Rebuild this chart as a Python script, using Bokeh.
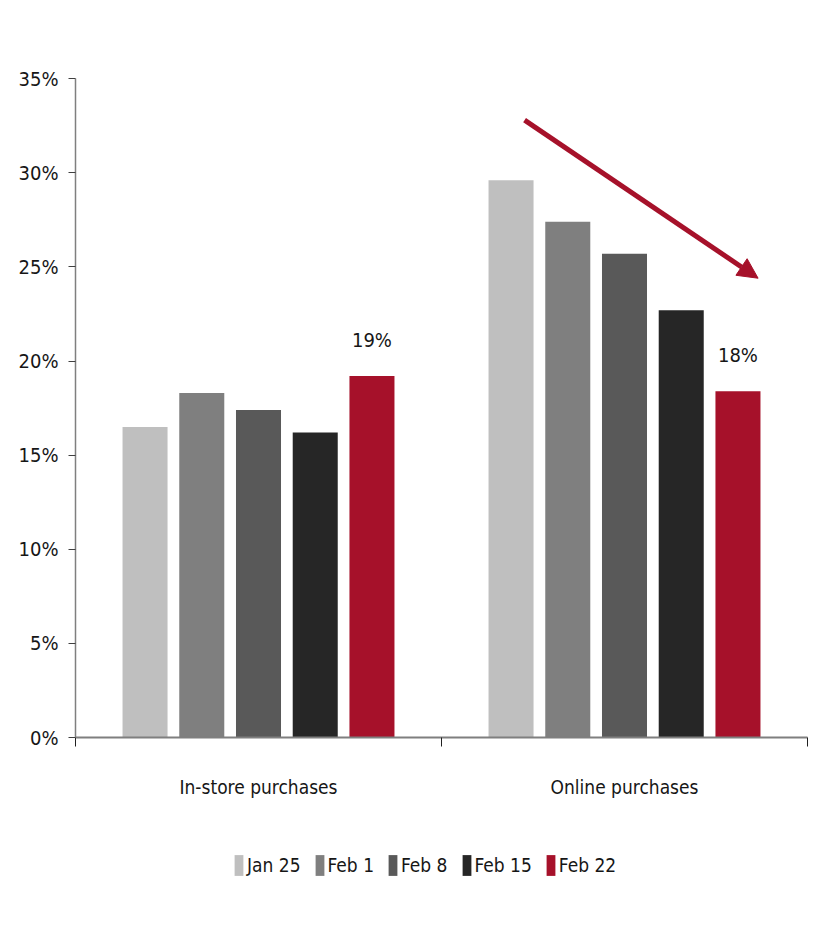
from bokeh.plotting import figure
from bokeh.layouts import column
from bokeh.models import ColumnDataSource, FixedTicker, Legend, LegendItem, Arrow, NormalHead, NumeralTickFormatter
from bokeh.core.properties import value
from bokeh.embed import file_html
from bokeh.resources import INLINE

categories = ["In-store purchases", "Online purchases"]
weeks = ["Jan 25", "Feb 1", "Feb 8", "Feb 15", "Feb 22"]
instore = [0.165, 0.183, 0.174, 0.162, 0.192]
online = [0.296, 0.274, 0.257, 0.227, 0.184]
colors = ["#BFBFBF", "#7F7F7F", "#595959", "#262626", "#A6112A"]
label_texts = ["19%", "18%"]
y_ticks = [0, 0.05, 0.10, 0.15, 0.20, 0.25, 0.30, 0.35]
arrow_start = (1.227, 0.328)
arrow_end = (1.865, 0.244)

FONT = "DejaVu Sans Condensed"
TXT = "#161616"

p = figure(frame_width=732, frame_height=659, x_range=(0, 2), y_range=(0, 0.3501),
           output_backend="svg", toolbar_location=None,
           min_border_left=75, min_border_top=78, min_border_right=6, min_border_bottom=80)
p.grid.visible = False
p.outline_line_color = None

step = 0.155
width = 0.123
for i, w in enumerate(weeks):
    xs = [0.5 + (i - 2) * step, 1.5 + (i - 2) * step]
    src = ColumnDataSource(dict(x=xs, top=[instore[i], online[i]]))
    p.vbar(x="x", top="top", width=width, bottom=0, source=src,
           fill_color=colors[i], line_color=None)

# data labels on last week
lx = [0.5 + 2 * step, 1.5 + 2 * step]
ly = [instore[-1], online[-1]]
lsrc = ColumnDataSource(dict(x=lx, y=ly, t=label_texts))
p.text(x="x", y="y", text="t", source=lsrc, text_align="center", text_baseline="bottom",
       y_offset=-24, text_font=value(FONT), text_font_size="20px", text_color=TXT)

# arrow
p.add_layout(Arrow(x_start=arrow_start[0], y_start=arrow_start[1], x_end=arrow_end[0], y_end=arrow_end[1],
                   line_color="#A6112A", line_width=5,
                   end=NormalHead(size=20, fill_color="#A6112A", line_color="#A6112A")))

# y axis
p.yaxis.ticker = FixedTicker(ticks=y_ticks)
p.yaxis.formatter = NumeralTickFormatter(format="0%")
p.yaxis.major_tick_out = 7
p.yaxis.major_tick_in = 0
p.yaxis.minor_tick_out = 0
p.yaxis.minor_tick_in = 0
p.yaxis.axis_line_color = "#7F7F7F"
p.yaxis.axis_line_width = 1.5
p.yaxis.major_tick_line_color = "#404040"
p.yaxis.major_label_text_font = FONT
p.yaxis.major_label_text_font_size = "20px"
p.yaxis.major_label_text_color = TXT
p.yaxis.major_label_standoff = 10

# x axis
p.xaxis.ticker = FixedTicker(ticks=[0.5, 1.5], minor_ticks=[0, 1, 2])
p.xaxis.major_label_overrides = {0.5: categories[0], 1.5: categories[1]}
p.xaxis.major_tick_out = 0
p.xaxis.major_tick_in = 0
p.xaxis.minor_tick_out = 9
p.xaxis.minor_tick_in = 0
p.xaxis.minor_tick_line_color = "#202020"
p.xaxis.axis_line_color = "#7F7F7F"
p.xaxis.axis_line_width = 2
p.xaxis.major_label_text_font = FONT
p.xaxis.major_label_text_font_size = "19px"
p.xaxis.major_label_text_color = TXT
p.xaxis.major_label_standoff = 29

# legend strip below the chart (swatches drawn from off-screen placeholder bars)
lf = figure(width=813, height=96, x_range=(0, 1), y_range=(0, 1),
            output_backend="svg", toolbar_location=None,
            x_axis_type=None, y_axis_type=None, min_border=0)
lf.grid.visible = False
lf.outline_line_color = None
items = []
for i, w in enumerate(weeks):
    r = lf.vbar(x=[-5], top=[-5], bottom=-6, width=0.1, fill_color=colors[i], line_color=None)
    items.append(LegendItem(label=w, renderers=[r]))
legend = Legend(items=items, orientation="horizontal", location=(158, 35),
                glyph_width=11, glyph_height=26, label_standoff=3, spacing=13,
                label_text_font=FONT, label_text_font_size="19px", label_text_color=TXT,
                border_line_color=None, background_fill_alpha=0, margin=0, padding=0)
lf.add_layout(legend, "center")

open("out.html", "w").write(file_html(column(p, lf, spacing=0), INLINE))
